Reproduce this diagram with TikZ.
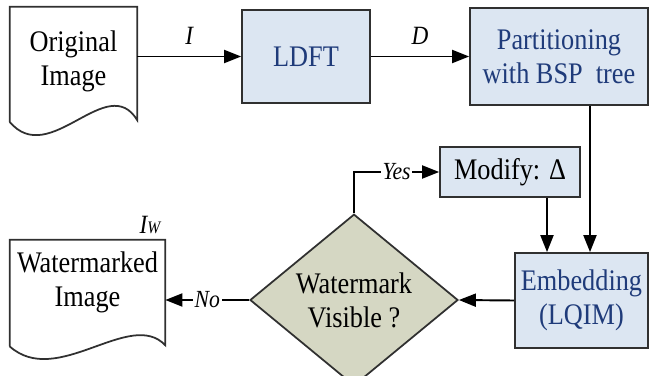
\documentclass[tikz,border=0pt]{standalone}
\usepackage{fontspec}
\setmainfont[FakeStretch=0.88]{Liberation Serif}
\usetikzlibrary{arrows.meta,shapes.geometric}

\definecolor{boxblue}{HTML}{DCE6F2}
\definecolor{textblue}{HTML}{1F3B7A}
\definecolor{diagreen}{HTML}{D5D7C3}
\definecolor{linegray}{HTML}{303030}

\tikzset{
  >={Triangle[length=0.34cm,width=0.26cm]},
  every node/.style={font=\fontsize{17}{19.5}\selectfont},
  procbox/.style={draw=linegray,line width=1pt,fill=boxblue,text=textblue,align=center,inner sep=0pt},
  docbox/.style={align=center,inner sep=0pt},
  docline/.style={draw=linegray,line width=1pt},
  decision/.style={diamond,draw=linegray,line width=1pt,fill=diagreen,align=center,inner sep=0pt,
                   minimum width=4.16cm,minimum height=2.9cm},
  flow/.style={line width=1.1pt},
  sig/.style={font=\fontsize{15}{17}\selectfont\itshape},
  answer/.style={font=\fontsize{14}{16}\selectfont\itshape,fill=white,inner sep=1pt}
}

\begin{document}
\begin{tikzpicture}
\useasboundingbox (0,0) rectangle (13,7.5);

\node[docbox,minimum width=2.54cm,minimum height=2.16cm] (orig) at (1.47,6.28) {Original\\Image};
\node[procbox,minimum width=2.56cm,minimum height=1.86cm] (ldft) at (6.12,6.37) {LDFT};
\node[procbox,minimum width=3.56cm,minimum height=1.94cm] (part) at (11.18,6.37) {Partitioning\\with BSP\ \ tree};
\node[procbox,text=black,minimum width=2.8cm,minimum height=1.0cm] (modify) at (10.2,4.06) {Modify: Δ};
\node[procbox,minimum width=2.66cm,minimum height=1.9cm] (embed) at (11.63,1.49) {Embedding\\(LQIM)};
\node[decision] (vis) at (7.08,1.5) {Watermark\\Visible ?};
\node[docbox,minimum width=3.1cm,minimum height=1.68cm] (wm) at (1.75,1.86) {Watermarked\\Image};
\node[sig] (iw) at (3.0,3.0) {I{\fontsize{10}{11}\selectfont W}};

% document outlines
\draw[docline] ([yshift=-0.13cm]orig.south west) -- (orig.north west) -- (orig.north east) -- ([yshift=-0.1cm]orig.south east)
  .. controls +(-0.6,1.0) and +(0.8,-0.95) .. ([yshift=-0.13cm]orig.south west);
\draw[docline] ([yshift=-0.44cm]wm.south west) -- (wm.north west) -- (wm.north east) -- ([yshift=-0.42cm]wm.south east)
  .. controls +(-0.7,0.75) and +(0.95,-0.85) .. ([yshift=-0.44cm]wm.south west);

% flow
\draw[flow,->] (orig.east |- ldft.west) -- node[sig,above=3pt] (lbli) {I} (ldft.west);
\draw[flow,->] (ldft.east) -- node[sig,above=3pt] (lbld) {D} (part.west);
\draw[flow,->] ([xshift=0.62cm]part.south) -- ([xshift=0.62cm]part.south |- embed.north);
\draw[flow,->] ([xshift=0.74cm]modify.south) -- ([xshift=0.74cm]modify.south |- embed.north);
\draw[flow,->] (embed.west) -- (vis.east);
\draw[flow,->] (vis.north) |- node[answer,pos=0.75] (yes) {Yes} (modify.west);
\draw[flow,->] (vis.west) -- node[answer,pos=0.5] (no) {No} (vis.west -| wm.east);

\end{tikzpicture}
\end{document}
